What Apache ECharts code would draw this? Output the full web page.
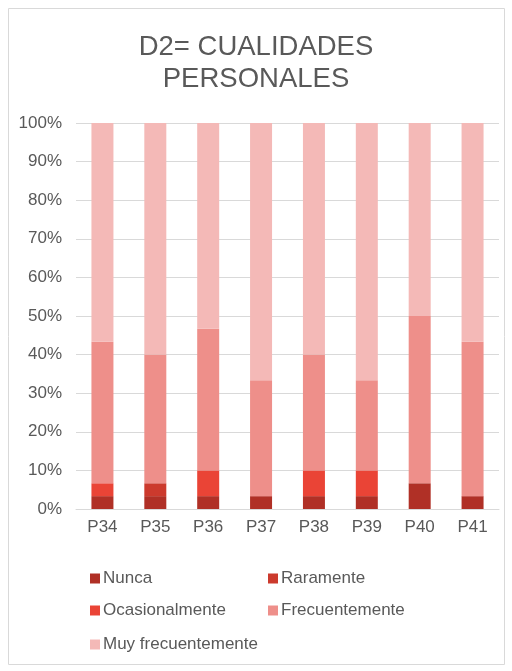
<!DOCTYPE html>
<html><head><meta charset="utf-8">
<script src="https://cdn.jsdelivr.net/npm/echarts@6/dist/echarts.min.js"></script>
<style>html,body{margin:0;padding:0;background:#fff}#c{width:512px;height:671px}</style>
</head><body><div id="c"></div>
<script>
// Data (response counts per question, out of 30)
const categories = ['P34','P35','P36','P37','P38','P39','P40','P41'];
const nunca          = [1, 1, 1, 1, 1, 1, 2, 1];
const raramente      = [0, 1, 0, 0, 0, 0, 0, 0];
const ocasionalmente = [1, 0, 2, 0, 2, 2, 0, 0];
const frecuentemente = [11,10,11, 9, 9, 7,13,12];
const muyFrecuente   = [17,18,16,20,18,20,15,17];
const yTicks = ['0%','10%','20%','30%','40%','50%','60%','70%','80%','90%','100%'];

const seriesNames = ['Nunca','Raramente','Ocasionalmente','Frecuentemente','Muy frecuentemente'];
const seriesData = [nunca, raramente, ocasionalmente, frecuentemente, muyFrecuente];
const colors = ['#b03026','#cc3a2d','#ea4436','#ee8f8a','#f4b9b7'];
const totals = categories.map((_, i) => seriesData.reduce((s, arr) => s + arr[i], 0));

const chart = echarts.init(document.getElementById('c'));
const font = 'Liberation Sans, Arial, sans-serif';
const legendPos = [[85,565],[263,565],[85,597],[263,597],[85,631]];
chart.setOption({
  animation: false,
  title: {
    text: 'D2= CUALIDADES\nPERSONALES',
    left: 'center', top: 26,
    textStyle: {fontFamily: font, fontSize: 27.5, fontWeight: 'normal', color: '#595959', lineHeight: 32}
  },
  legend: seriesNames.map((n, i) => ({
    data: [n], left: legendPos[i][0], top: legendPos[i][1],
    itemWidth: 10, itemHeight: 10, itemGap: 0, icon: 'rect',
    textStyle: {fontFamily: font, fontSize: 17, color: '#595959', padding: [0,0,0,-2]}
  })),
  grid: {left: 76, right: 13, top: 123, bottom: 162},
  xAxis: {
    type: 'category', data: categories,
    axisLine: {show: true, lineStyle: {color: '#d9d9d9'}},
    axisTick: {show: false},
    axisLabel: {fontFamily: font, fontSize: 17, color: '#595959', margin: 10}
  },
  yAxis: {
    type: 'value', min: 0, max: 100, interval: 10,
    axisLine: {show: false}, axisTick: {show: false},
    splitLine: {lineStyle: {color: '#d9d9d9', width: 1}},
    axisLabel: {fontFamily: font, fontSize: 17, color: '#595959', margin: 14,
      formatter: v => yTicks[Math.round(v / 10)]}
  },
  series: seriesNames.map((n, k) => ({
    name: n, type: 'bar', stack: 'total', barWidth: 22,
    itemStyle: {color: colors[k]},
    data: seriesData[k].map((v, i) => v / totals[i] * 100)
  }))
});
// outer border
chart.setOption({graphic: [{type: 'rect', shape: {x: 8.5, y: 8.5, width: 496, height: 656},
  style: {fill: 'none', stroke: '#d9d9d9', lineWidth: 1}, silent: true, z: -1}]});
</script></body></html>
